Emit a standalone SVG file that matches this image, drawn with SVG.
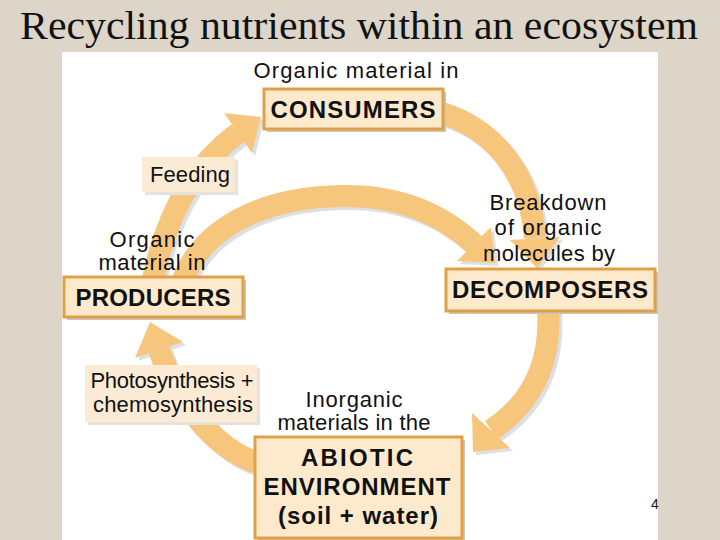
<svg xmlns="http://www.w3.org/2000/svg" width="720" height="540" viewBox="0 0 720 540">
<defs>
<style>
.bg{fill:#ddd5c8}
.panel{fill:#ffffff}
.title{font-family:"Liberation Serif","Times New Roman",serif;font-size:41px;fill:#111}
.shaft{fill:none;stroke:#f7c67d;stroke-width:22}
.shaftsh{fill:none;stroke:#dcdfe4;stroke-width:22}
.head{fill:#f7c67d}
.headsh{fill:#dcdfe4}
.box{fill:#fdeacd;stroke:#e2a046;stroke-width:3}
.boxsh{fill:#c9c6c0}
.tag{fill:#fcebd4}
.tagsh{fill:#e6e3df}
.t{font-family:"Liberation Sans",Arial,sans-serif;font-size:22px;fill:#111;text-anchor:middle}
.b{font-family:"Liberation Sans",Arial,sans-serif;font-size:24px;font-weight:bold;fill:#111;text-anchor:middle}
.pg{font-family:"Liberation Sans",Arial,sans-serif;font-size:14px;fill:#111}
</style>
</defs>
<rect class="bg" x="0" y="0" width="720" height="540"/>
<rect class="panel" x="62" y="52" width="596" height="488"/>
<text class="title" x="359" y="39" text-anchor="middle" textLength="678" lengthAdjust="spacingAndGlyphs">Recycling nutrients within an ecosystem</text>

<g id="connectors">
  <g transform="translate(3,3)">
    <path class="shaftsh" d="M152,285 C162,230 185,172 238,133"/>
    <polygon class="headsh" points="224,113 261,117 252,153"/>
    <path class="shaftsh" d="M182,282 C202,228 262,197 342,196 C402,195 445,217 474,244"/>
    <polygon class="headsh" points="491,227 495,263 457,261"/>
    <path class="shaftsh" d="M442,113 C490,128 530,170 535,238"/>
    <polygon class="headsh" points="510,240 560,237 537,268"/>
    <path class="shaftsh" d="M548,308 C552,365 530,405 491,430"/>
    <polygon class="headsh" points="472,413 510,448 473,452"/>
    <path class="shaftsh" d="M258,463 C222,452 182,413 159,350"/>
    <polygon class="headsh" points="183,342 150,322 135,358"/>
  </g>
  <g id="arrow-feeding">
    <path class="shaft" d="M152,285 C162,230 185,172 238,133"/>
    <polygon class="head" points="224,113 261,117 252,153"/>
  </g>
  <g id="arrow-producers-decomposers">
    <path class="shaft" d="M182,282 C202,228 262,197 342,196 C402,195 445,217 474,244"/>
    <polygon class="head" points="491,227 495,263 457,261"/>
  </g>
  <g id="arrow-consumers-decomposers">
    <path class="shaft" d="M442,113 C490,128 530,170 535,238"/>
    <polygon class="head" points="510,240 560,237 537,268"/>
  </g>
  <g id="arrow-decomposers-abiotic">
    <path class="shaft" d="M548,308 C552,365 530,405 491,430"/>
    <polygon class="head" points="472,413 510,448 473,452"/>
  </g>
  <g id="arrow-abiotic-producers">
    <path class="shaft" d="M258,463 C222,452 182,413 159,350"/>
    <polygon class="head" points="183,342 150,322 135,358"/>
  </g>
</g>

<g id="consumers">
  <text class="t" x="356" y="78" textLength="205">Organic material in</text>
  <rect class="boxsh" x="267" y="92" width="179" height="40"/>
  <rect class="box" x="264" y="89" width="179" height="40"/>
  <text class="b" x="353" y="118" textLength="165">CONSUMERS</text>
</g>

<g id="feeding">
  <rect class="tagsh" x="145" y="160" width="93" height="35"/>
  <rect class="tag" x="142" y="157" width="93" height="35"/>
  <text class="t" x="190" y="182" textLength="80">Feeding</text>
</g>

<g id="producers">
  <text class="t" x="152" y="247" textLength="85">Organic</text>
  <text class="t" x="152" y="270" textLength="107">material in</text>
  <rect class="boxsh" x="67" y="280" width="179" height="40"/>
  <rect class="box" x="64" y="277" width="179" height="40"/>
  <text class="b" x="153" y="306" textLength="155">PRODUCERS</text>
</g>

<g id="decomposers">
  <text class="t" x="548" y="210" textLength="117">Breakdown</text>
  <text class="t" x="548" y="235" textLength="107">of organic</text>
  <text class="t" x="549" y="261" textLength="132">molecules by</text>
  <rect class="boxsh" x="449" y="272" width="209" height="42"/>
  <rect class="box" x="446" y="269" width="209" height="42"/>
  <text class="b" x="550" y="298" textLength="196">DECOMPOSERS</text>
</g>

<g id="photosynthesis">
  <rect class="tagsh" x="88" y="368" width="172" height="57"/>
  <rect class="tag" x="85" y="365" width="172" height="57"/>
  <text class="t" x="172" y="388" textLength="163">Photosynthesis +</text>
  <text class="t" x="173" y="412" textLength="160">chemosynthesis</text>
</g>

<g id="abiotic">
  <text class="t" x="354" y="407" textLength="97">Inorganic</text>
  <text class="t" x="354" y="430" textLength="153">materials in the</text>
  <rect class="boxsh" x="258" y="440" width="207" height="102"/>
  <rect class="box" x="255" y="437" width="207" height="101"/>
  <text class="b" x="357" y="466" textLength="112">ABIOTIC</text>
  <text class="b" x="357" y="495" textLength="187">ENVIRONMENT</text>
  <text class="b" x="358" y="524" textLength="160">(soil + water)</text>
</g>

<text class="pg" x="651" y="509">4</text>
</svg>
